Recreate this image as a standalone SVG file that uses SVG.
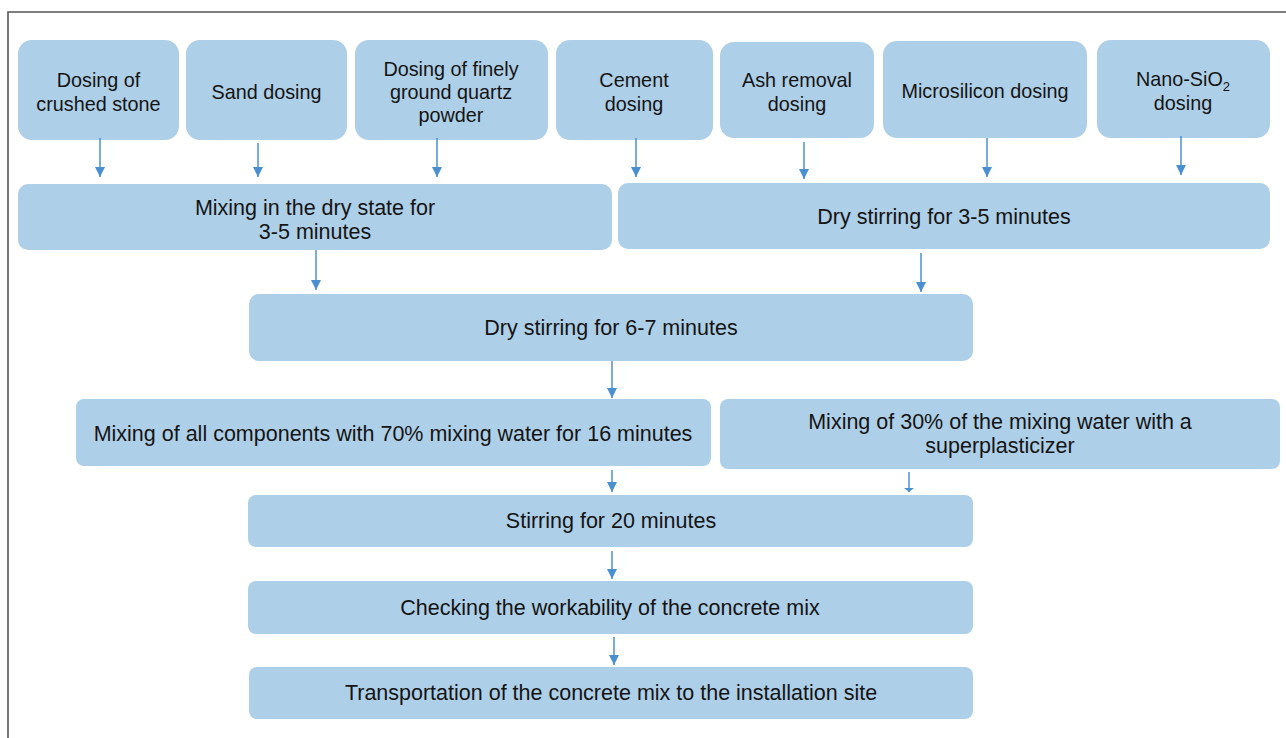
<svg xmlns="http://www.w3.org/2000/svg" width="1286" height="738" viewBox="0 0 1286 738">
<defs>
<style>
.box{fill:#aecfe8;}
.t{font-family:"Liberation Sans",Arial,sans-serif;font-size:19.8px;fill:#141414;text-anchor:middle;}
.L{font-size:21.5px;}
.c{stroke:#4a90d0;stroke-width:1.5;fill:none;marker-end:url(#ah);}
</style>
<marker id="ah" viewBox="0 0 10 10" refX="10" refY="5" markerWidth="10" markerHeight="10" markerUnits="userSpaceOnUse" orient="auto">
<path d="M0,0 L10,5 L0,10 Z" fill="#4a90d0"/>
</marker>
<marker id="ahs" viewBox="0 0 4 10" refX="4" refY="5" markerWidth="4" markerHeight="10" markerUnits="userSpaceOnUse" orient="auto">
<path d="M0,0 L4,5 L0,10 Z" fill="#4a90d0"/>
</marker>
</defs>
<rect width="1286" height="738" fill="#ffffff"/>
<path d="M8,738 L8,12 L1286,12" fill="none" stroke="#555" stroke-width="1.6"/>

<g id="n1"><rect class="box" x="18" y="40" width="161" height="100" rx="14"/><text class="t" x="98.5" y="87">Dosing of</text><text class="t" x="98.5" y="111">crushed stone</text></g>
<g id="n2"><rect class="box" x="186" y="40" width="161" height="100" rx="14"/><text class="t" x="266.5" y="99">Sand dosing</text></g>
<g id="n3"><rect class="box" x="355" y="40" width="193" height="100" rx="14"/><text class="t" x="451" y="76">Dosing of finely</text><text class="t" x="451" y="99">ground quartz</text><text class="t" x="451" y="122">powder</text></g>
<g id="n4"><rect class="box" x="556" y="40" width="157" height="100" rx="14"/><text class="t" x="634" y="87">Cement</text><text class="t" x="634" y="111">dosing</text></g>
<g id="n5"><rect class="box" x="720" y="42" width="154" height="96" rx="14"/><text class="t" x="797" y="87">Ash removal</text><text class="t" x="797" y="111">dosing</text></g>
<g id="n6"><rect class="box" x="883" y="41" width="204" height="97" rx="14"/><text class="t" x="985" y="98">Microsilicon dosing</text></g>
<g id="n7"><rect class="box" x="1097" y="40" width="173" height="98" rx="14"/><text class="t" x="1183" y="86">Nano-SiO<tspan font-size="13" dy="5">2</tspan></text><text class="t" x="1183" y="110">dosing</text></g>

<g id="n8"><rect class="box" x="18" y="184" width="594" height="66" rx="10"/><text class="t L" x="315" y="215">Mixing in the dry state for</text><text class="t L" x="315" y="239">3-5 minutes</text></g>
<g id="n9"><rect class="box" x="618" y="183" width="652" height="66" rx="10"/><text class="t L" x="944" y="224">Dry stirring for 3-5 minutes</text></g>
<g id="n10"><rect class="box" x="249" y="294" width="724" height="67" rx="10"/><text class="t L" x="611" y="335">Dry stirring for 6-7 minutes</text></g>
<g id="n11"><rect class="box" x="76" y="399" width="635" height="67" rx="8"/><text class="t L" x="393" y="441">Mixing of all components with 70% mixing water for 16 minutes</text></g>
<g id="n12"><rect class="box" x="720" y="399" width="560" height="70" rx="8"/><text class="t L" x="1000" y="429">Mixing of 30% of the mixing water with a</text><text class="t L" x="1000" y="453">superplasticizer</text></g>
<g id="n13"><rect class="box" x="248" y="495" width="725" height="52" rx="8"/><text class="t L" x="611" y="528">Stirring for 20 minutes</text></g>
<g id="n14"><rect class="box" x="248" y="581" width="725" height="53" rx="8"/><text class="t L" x="610" y="615">Checking the workability of the concrete mix</text></g>
<g id="n15"><rect class="box" x="249" y="667" width="724" height="52" rx="8"/><text class="t L" x="611" y="700">Transportation of the concrete mix to the installation site</text></g>

<g id="connectors">
<line class="c" x1="100" y1="138" x2="100" y2="177"/>
<line class="c" x1="258" y1="143" x2="258" y2="177"/>
<line class="c" x1="437" y1="138" x2="437" y2="177"/>
<line class="c" x1="636" y1="138" x2="636" y2="177"/>
<line class="c" x1="804" y1="142" x2="804" y2="179"/>
<line class="c" x1="987" y1="138" x2="987" y2="177"/>
<line class="c" x1="1181" y1="136" x2="1181" y2="175"/>
<line class="c" x1="316" y1="250" x2="316" y2="290"/>
<line class="c" x1="921" y1="253" x2="921" y2="292"/>
<line class="c" x1="612" y1="361" x2="612" y2="398"/>
<line class="c" x1="612" y1="470" x2="612" y2="492"/>
<line class="c" x1="909" y1="472" x2="909" y2="492" style="marker-end:url(#ahs)"/>
<line class="c" x1="612" y1="551" x2="612" y2="579"/>
<line class="c" x1="614" y1="637" x2="614" y2="665"/>
</g>
</svg>
